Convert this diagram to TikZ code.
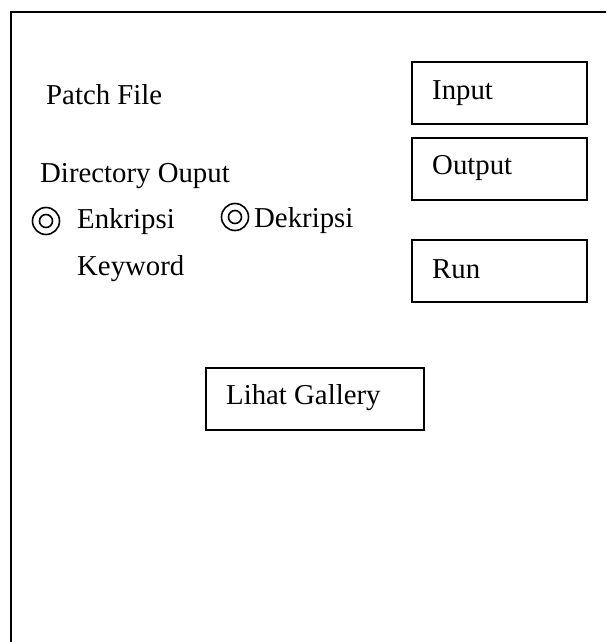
\documentclass[tikz,border=0pt]{standalone}
\usepackage{fontspec}
\setmainfont{Liberation Serif}
\begin{document}
\begin{tikzpicture}[x=1pt,y=-1pt,
  btn/.style={draw,line width=2pt,minimum width=175pt,minimum height=62pt,inner sep=0pt,anchor=north west},
  lbl/.style={anchor=base west,inner sep=0pt,font=\fontsize{28.8}{34}\selectfont},
  radio/.style={circle,draw,line width=1.6pt,minimum size=#1,inner sep=0pt}]
\useasboundingbox (0,0) rectangle (606,642);
\clip (0,0) rectangle (606,642);
% window frame, running off the right and bottom
\draw[line width=2pt] (11,12) rectangle (640,680);
% labels on the left
\node[lbl] (patch) at (46,104) {Patch File};
\node[lbl] (dir) at (40,182) {Directory Ouput};
% radio buttons
\node[radio=27pt] (r1) at (46,221) {};
\node[radio=13pt] (r1in) at (r1) {};
\node[lbl] (enk) at (77,228) {Enkripsi};
\node[radio=27pt] (r2) at (235,217) {};
\node[radio=13pt] (r2in) at (r2) {};
\node[lbl] (dek) at (254,227) {Dekripsi};
\node[lbl] (key) at (77,275) {Keyword};
% buttons
\node[btn] (input) at (411,61) {};
\node[lbl] (inputt) at (432,99) {Input};
\node[btn] (output) at (411,137) {};
\node[lbl] (outputt) at (432,174) {Output};
\node[btn] (run) at (411,239) {};
\node[lbl] (runt) at (432,278) {Run};
\node[btn,minimum width=218pt] (gal) at (205,367) {};
\node[lbl] (galt) at (226,404) {Lihat Gallery};
\end{tikzpicture}
\end{document}
